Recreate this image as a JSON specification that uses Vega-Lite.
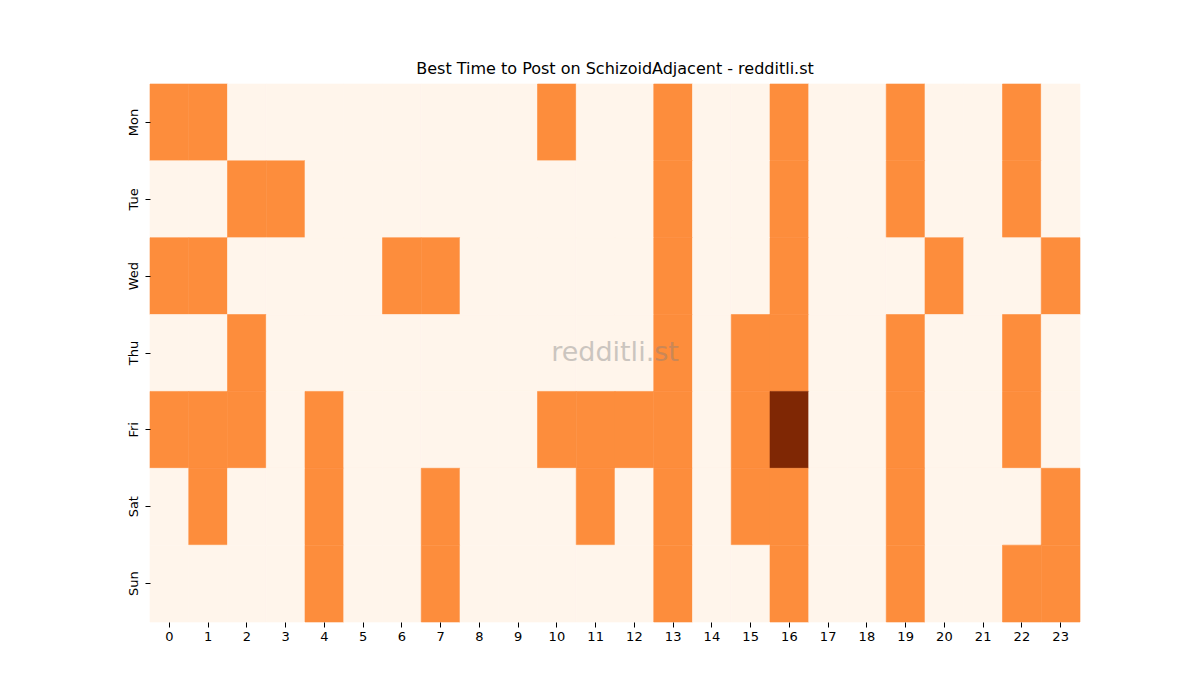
{
  "$schema": "https://vega.github.io/schema/vega-lite/v6.json",
  "width": 930,
  "height": 538,
  "autosize": {"type": "none"},
  "padding": {"left": 150, "top": 84, "right": 120, "bottom": 78},
  "background": "white",
  "config": {
    "view": {"stroke": null},
    "font": "DejaVu Sans",
    "axis": {"labelFont": "DejaVu Sans", "labelFontSize": 13, "labelColor": "#000", "tickColor": "#000", "tickSize": 5, "domain": false, "grid": false, "title": null}
  },
  "title": {"text": "Best Time to Post on SchizoidAdjacent - redditli.st", "font": "DejaVu Sans", "fontSize": 16, "fontWeight": "normal", "color": "#000", "offset": 7},
  "layer": [
    {
      "data": {"values": [
        {"d":"Mon","h":0,"v":1},{"d":"Mon","h":1,"v":1},{"d":"Mon","h":2,"v":0},{"d":"Mon","h":3,"v":0},{"d":"Mon","h":4,"v":0},{"d":"Mon","h":5,"v":0},{"d":"Mon","h":6,"v":0},{"d":"Mon","h":7,"v":0},{"d":"Mon","h":8,"v":0},{"d":"Mon","h":9,"v":0},{"d":"Mon","h":10,"v":1},{"d":"Mon","h":11,"v":0},{"d":"Mon","h":12,"v":0},{"d":"Mon","h":13,"v":1},{"d":"Mon","h":14,"v":0},{"d":"Mon","h":15,"v":0},{"d":"Mon","h":16,"v":1},{"d":"Mon","h":17,"v":0},{"d":"Mon","h":18,"v":0},{"d":"Mon","h":19,"v":1},{"d":"Mon","h":20,"v":0},{"d":"Mon","h":21,"v":0},{"d":"Mon","h":22,"v":1},{"d":"Mon","h":23,"v":0},
        {"d":"Tue","h":0,"v":0},{"d":"Tue","h":1,"v":0},{"d":"Tue","h":2,"v":1},{"d":"Tue","h":3,"v":1},{"d":"Tue","h":4,"v":0},{"d":"Tue","h":5,"v":0},{"d":"Tue","h":6,"v":0},{"d":"Tue","h":7,"v":0},{"d":"Tue","h":8,"v":0},{"d":"Tue","h":9,"v":0},{"d":"Tue","h":10,"v":0},{"d":"Tue","h":11,"v":0},{"d":"Tue","h":12,"v":0},{"d":"Tue","h":13,"v":1},{"d":"Tue","h":14,"v":0},{"d":"Tue","h":15,"v":0},{"d":"Tue","h":16,"v":1},{"d":"Tue","h":17,"v":0},{"d":"Tue","h":18,"v":0},{"d":"Tue","h":19,"v":1},{"d":"Tue","h":20,"v":0},{"d":"Tue","h":21,"v":0},{"d":"Tue","h":22,"v":1},{"d":"Tue","h":23,"v":0},
        {"d":"Wed","h":0,"v":1},{"d":"Wed","h":1,"v":1},{"d":"Wed","h":2,"v":0},{"d":"Wed","h":3,"v":0},{"d":"Wed","h":4,"v":0},{"d":"Wed","h":5,"v":0},{"d":"Wed","h":6,"v":1},{"d":"Wed","h":7,"v":1},{"d":"Wed","h":8,"v":0},{"d":"Wed","h":9,"v":0},{"d":"Wed","h":10,"v":0},{"d":"Wed","h":11,"v":0},{"d":"Wed","h":12,"v":0},{"d":"Wed","h":13,"v":1},{"d":"Wed","h":14,"v":0},{"d":"Wed","h":15,"v":0},{"d":"Wed","h":16,"v":1},{"d":"Wed","h":17,"v":0},{"d":"Wed","h":18,"v":0},{"d":"Wed","h":19,"v":0},{"d":"Wed","h":20,"v":1},{"d":"Wed","h":21,"v":0},{"d":"Wed","h":22,"v":0},{"d":"Wed","h":23,"v":1},
        {"d":"Thu","h":0,"v":0},{"d":"Thu","h":1,"v":0},{"d":"Thu","h":2,"v":1},{"d":"Thu","h":3,"v":0},{"d":"Thu","h":4,"v":0},{"d":"Thu","h":5,"v":0},{"d":"Thu","h":6,"v":0},{"d":"Thu","h":7,"v":0},{"d":"Thu","h":8,"v":0},{"d":"Thu","h":9,"v":0},{"d":"Thu","h":10,"v":0},{"d":"Thu","h":11,"v":0},{"d":"Thu","h":12,"v":0},{"d":"Thu","h":13,"v":1},{"d":"Thu","h":14,"v":0},{"d":"Thu","h":15,"v":1},{"d":"Thu","h":16,"v":1},{"d":"Thu","h":17,"v":0},{"d":"Thu","h":18,"v":0},{"d":"Thu","h":19,"v":1},{"d":"Thu","h":20,"v":0},{"d":"Thu","h":21,"v":0},{"d":"Thu","h":22,"v":1},{"d":"Thu","h":23,"v":0},
        {"d":"Fri","h":0,"v":1},{"d":"Fri","h":1,"v":1},{"d":"Fri","h":2,"v":1},{"d":"Fri","h":3,"v":0},{"d":"Fri","h":4,"v":1},{"d":"Fri","h":5,"v":0},{"d":"Fri","h":6,"v":0},{"d":"Fri","h":7,"v":0},{"d":"Fri","h":8,"v":0},{"d":"Fri","h":9,"v":0},{"d":"Fri","h":10,"v":1},{"d":"Fri","h":11,"v":1},{"d":"Fri","h":12,"v":1},{"d":"Fri","h":13,"v":1},{"d":"Fri","h":14,"v":0},{"d":"Fri","h":15,"v":1},{"d":"Fri","h":16,"v":2},{"d":"Fri","h":17,"v":0},{"d":"Fri","h":18,"v":0},{"d":"Fri","h":19,"v":1},{"d":"Fri","h":20,"v":0},{"d":"Fri","h":21,"v":0},{"d":"Fri","h":22,"v":1},{"d":"Fri","h":23,"v":0},
        {"d":"Sat","h":0,"v":0},{"d":"Sat","h":1,"v":1},{"d":"Sat","h":2,"v":0},{"d":"Sat","h":3,"v":0},{"d":"Sat","h":4,"v":1},{"d":"Sat","h":5,"v":0},{"d":"Sat","h":6,"v":0},{"d":"Sat","h":7,"v":1},{"d":"Sat","h":8,"v":0},{"d":"Sat","h":9,"v":0},{"d":"Sat","h":10,"v":0},{"d":"Sat","h":11,"v":1},{"d":"Sat","h":12,"v":0},{"d":"Sat","h":13,"v":1},{"d":"Sat","h":14,"v":0},{"d":"Sat","h":15,"v":1},{"d":"Sat","h":16,"v":1},{"d":"Sat","h":17,"v":0},{"d":"Sat","h":18,"v":0},{"d":"Sat","h":19,"v":1},{"d":"Sat","h":20,"v":0},{"d":"Sat","h":21,"v":0},{"d":"Sat","h":22,"v":0},{"d":"Sat","h":23,"v":1},
        {"d":"Sun","h":0,"v":0},{"d":"Sun","h":1,"v":0},{"d":"Sun","h":2,"v":0},{"d":"Sun","h":3,"v":0},{"d":"Sun","h":4,"v":1},{"d":"Sun","h":5,"v":0},{"d":"Sun","h":6,"v":0},{"d":"Sun","h":7,"v":1},{"d":"Sun","h":8,"v":0},{"d":"Sun","h":9,"v":0},{"d":"Sun","h":10,"v":0},{"d":"Sun","h":11,"v":0},{"d":"Sun","h":12,"v":0},{"d":"Sun","h":13,"v":1},{"d":"Sun","h":14,"v":0},{"d":"Sun","h":15,"v":0},{"d":"Sun","h":16,"v":1},{"d":"Sun","h":17,"v":0},{"d":"Sun","h":18,"v":0},{"d":"Sun","h":19,"v":1},{"d":"Sun","h":20,"v":0},{"d":"Sun","h":21,"v":0},{"d":"Sun","h":22,"v":1},{"d":"Sun","h":23,"v":1}
      ]},
      "mark": {"type": "rect", "strokeWidth": 0.6, "opacity": 1, "fillOpacity": 1, "strokeOpacity": 1},
      "encoding": {
        "x": {"field": "h", "type": "ordinal", "sort": "ascending", "scale": {"paddingInner": 0, "paddingOuter": 0}, "axis": {"labelAngle": 0, "labelPadding": 3}},
        "y": {"field": "d", "type": "ordinal", "sort": ["Mon","Tue","Wed","Thu","Fri","Sat","Sun"], "scale": {"paddingInner": 0, "paddingOuter": 0}, "axis": {"labelAngle": 270, "labelAlign": "center", "labelBaseline": "bottom", "labelPadding": 5}},
        "color": {"field": "v", "type": "quantitative", "scale": {"domain": [0, 1, 2], "range": ["#fff5eb", "#fd8d3c", "#7f2704"]}, "legend": null},
        "stroke": {"field": "v", "type": "quantitative", "scale": {"domain": [0, 1, 2], "range": ["#fff5eb", "#fd8d3c", "#7f2704"]}, "legend": null}
      }
    },
    {
      "data": {"values": [{"label": "redditli.st", "h": 12, "d": "Thu"}]},
      "mark": {"type": "text", "font": "DejaVu Sans", "fontSize": 27, "color": "#808080", "opacity": 0.4, "align": "center", "baseline": "middle"},
      "encoding": {
        "x": {"field": "h", "type": "ordinal", "bandPosition": 0},
        "y": {"field": "d", "type": "ordinal", "sort": ["Mon","Tue","Wed","Thu","Fri","Sat","Sun"]},
        "text": {"field": "label"}
      }
    }
  ]
}
